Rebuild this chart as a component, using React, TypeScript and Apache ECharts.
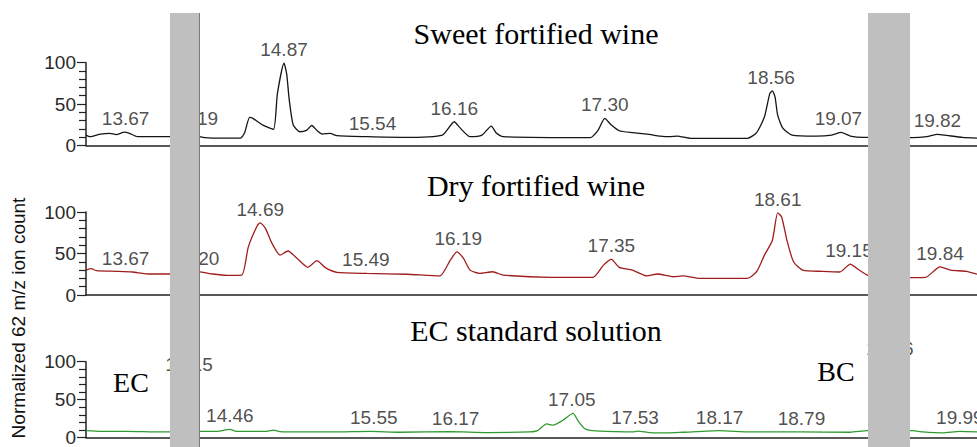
import React, { useEffect, useRef } from "react";
import * as echarts from "echarts";

// Retention time (min) vs normalized 62 m/z ion count
const sweetTrace: [number, number][] = [
  [13.37, 12.4], [13.40, 10.4], [13.48, 13.6], [13.55, 14.5], [13.60, 13], [13.66, 16], [13.70, 14.5],
  [13.76, 10.4], [13.98, 10.4], [14.08, 11], [14.15, 15], [14.19, 16], [14.23, 10.4], [14.33, 8.8],
  [14.54, 8.8], [14.57, 14.5], [14.61, 33.7], [14.64, 32], [14.71, 24.5], [14.79, 19.3], [14.82, 62.6],
  [14.87, 99.5], [14.89, 86.7], [14.91, 54.6], [14.94, 24.5], [14.99, 16.4], [15.04, 18], [15.08, 24],
  [15.12, 18], [15.16, 13.6], [15.22, 14.5], [15.27, 11.6], [15.50, 10.4], [15.77, 9.6], [16.07, 12.4],
  [16.16, 28.5], [16.20, 21.7], [16.28, 10.4], [16.37, 12.4], [16.44, 23.3], [16.48, 14.5], [16.53, 10.4],
  [17.19, 9.2], [17.25, 18.4], [17.30, 32.5], [17.35, 24.5], [17.41, 17.6], [17.51, 15.3], [17.62, 13.6],
  [17.72, 11.2], [17.79, 10.4], [17.85, 11.2], [17.95, 8.4], [18.38, 8.4], [18.45, 15.3], [18.51, 34.5],
  [18.55, 62.6], [18.57, 65.8], [18.59, 58.6], [18.61, 36.5], [18.65, 20.5], [18.72, 12.4], [18.90, 11.2],
  [19.02, 12.4], [19.09, 15.6], [19.16, 11.2], [19.26, 9.6], [19.40, 10], [19.46, 14], [19.55, 9.5],
  [19.63, 9.2], [19.74, 10.4], [19.82, 13.3], [19.89, 12], [20.01, 9.6], [20.12, 8.8],
];

const dryTrace: [number, number][] = [
  [13.37, 30], [13.41, 31.7], [13.45, 29.3], [13.60, 28.5], [13.72, 27.7], [13.85, 25.3], [14.01, 25.3],
  [14.10, 26], [14.20, 29], [14.23, 28], [14.33, 25.3], [14.44, 23.7], [14.55, 24], [14.60, 58],
  [14.67, 84.3], [14.69, 87], [14.73, 80], [14.78, 62], [14.84, 48], [14.90, 53], [14.97, 44], [15.05, 33.3],
  [15.12, 41.3], [15.18, 33.3], [15.27, 27.3], [15.50, 26], [15.80, 25], [16.05, 23], [16.13, 42],
  [16.18, 52], [16.23, 44], [16.28, 30], [16.35, 26], [16.45, 28], [16.53, 24], [16.89, 21.3], [17.21, 21.3],
  [17.29, 36], [17.35, 43], [17.41, 33.3], [17.51, 30], [17.62, 23], [17.70, 25.3], [17.82, 22],
  [17.89, 23], [18.02, 20], [18.38, 20], [18.45, 28], [18.51, 48], [18.57, 66], [18.61, 99], [18.64, 94],
  [18.68, 66], [18.73, 40], [18.80, 30], [18.95, 28.5], [19.08, 27.7], [19.16, 37.3], [19.21, 32],
  [19.29, 24], [19.40, 22], [19.46, 26], [19.55, 21], [19.63, 21], [19.73, 21.3], [19.84, 34], [19.92, 30],
  [20.04, 28.5], [20.12, 25],
];

const ecTrace: [number, number][] = [
  [13.37, 9], [13.48, 8.1], [13.68, 8.1], [13.93, 7.3], [14.03, 8], [14.08, 30], [14.12, 79], [14.16, 35],
  [14.21, 8], [14.23, 8.1], [14.36, 8.1], [14.46, 10.6], [14.51, 8.1], [14.74, 8.1], [14.79, 9.8],
  [14.84, 7.7], [15.00, 7.3], [15.24, 7.3], [15.52, 8.1], [15.75, 6.9], [16.13, 7.7], [16.41, 6.5],
  [16.73, 7.3], [16.79, 9], [16.86, 17.9], [16.91, 16.3], [16.98, 22.5], [17.06, 31.8], [17.10, 21.3],
  [17.15, 11.5], [17.21, 9], [17.39, 7.7], [17.51, 7.3], [17.55, 8.5], [17.64, 6.5], [17.77, 6.1],
  [17.89, 6.9], [18.17, 9], [18.40, 7.3], [18.78, 7.3], [19.16, 6.9], [19.29, 9], [19.32, 9], [19.38, 30],
  [19.43, 80], [19.46, 100], [19.50, 60], [19.55, 20], [19.60, 9], [19.63, 9], [19.71, 7.3], [19.86, 6.1],
  [19.99, 8.1], [20.12, 7.3],
];

// Peak labels: [retention time, peak height]
const sweetLabels: [number, number][] = [
  [13.67, 16], [14.19, 16], [14.87, 100], [15.54, 10.4], [16.16, 28.5], [17.30, 32.5], [18.56, 65.8],
  [19.07, 15.6], [19.82, 13.3],
];
const dryLabels: [number, number][] = [
  [13.67, 28], [14.20, 28], [14.69, 87], [15.49, 26], [16.19, 52], [17.35, 43], [18.61, 99], [19.15, 37.3],
  [19.84, 34],
];
const ecLabels: [number, number][] = [
  [14.15, 79], [14.46, 10.6], [15.55, 8.1], [16.17, 7.7], [17.05, 31.8], [17.53, 8], [18.17, 9],
  [18.79, 7.3], [19.46, 100], [19.99, 8.1],
];

const panelTitles = ["Sweet fortified wine", "Dry fortified wine", "EC standard solution"];
const yTicks = [0, 50, 100];
const xRange = [13.37, 20.12];

const SERIF = "'Liberation Serif', 'Times New Roman', serif";
const SANS = "'Liberation Sans', Arial, sans-serif";

export default function App() {
  const ref = useRef<HTMLDivElement>(null);
  useEffect(() => {
    if (!ref.current) return;
    const chart = echarts.init(ref.current, null, { renderer: "svg" });
    const grids = [
      { left: 86, right: 0, top: 62.7, height: 82.6 },
      { left: 86, right: 0, top: 212, height: 83 },
      { left: 86, right: 0, top: 361.7, height: 81.6 },
    ];
    const traces = [sweetTrace, dryTrace, ecTrace];
    const labels = [sweetLabels, dryLabels, ecLabels];
    const colors = ["#151515", "#a11d1d", "#2f9a2f"];

    const xAxis = grids.map((_, i) => ({
      type: "value" as const,
      gridIndex: i,
      min: xRange[0],
      max: xRange[1],
      axisLine: { show: true, lineStyle: { color: "#222", width: 1.5 } },
      axisTick: { show: false },
      axisLabel: { show: false },
      splitLine: { show: false },
    }));
    const yAxis = grids.map((_, i) => ({
      type: "value" as const,
      gridIndex: i,
      min: 0,
      max: 100,
      interval: 50,
      axisLine: { show: true, lineStyle: { color: "#222", width: 1.5 } },
      axisTick: { show: true, length: 9, lineStyle: { color: "#222", width: 1.2 } },
      minorTick: { show: true, splitNumber: 5, length: 7, lineStyle: { color: "#222", width: 1.2 } },
      axisLabel: {
        margin: 10,
        color: "#2a2a2a",
        fontSize: 19,
        fontFamily: SANS,
        formatter: (v: number) => (yTicks.includes(v) ? String(v) : ""),
      },
      splitLine: { show: false },
    }));

    const series: any[] = [];
    traces.forEach((tr, i) => {
      series.push({
        type: "line",
        xAxisIndex: i,
        yAxisIndex: i,
        data: tr,
        showSymbol: false,
        smooth: 0.2,
        lineStyle: { color: colors[i], width: 1.3 },
      });
      series.push({
        type: "scatter",
        xAxisIndex: i,
        yAxisIndex: i,
        symbolSize: 0,
        data: labels[i].map(([t, v]) => ({ name: t.toFixed(2), value: [t, v] })),
        label: {
          show: true,
          position: "top",
          distance: 4,
          formatter: "{b}",
          color: "#222",
          fontSize: 19,
          fontFamily: SANS,
        },
      });
    });

    const titleY = [33.5, 185, 330];
    const graphic: any[] = [
      ...panelTitles.map((t, i) => ({
        type: "text",
        x: 536,
        y: titleY[i],
        style: { text: t, font: `30px ${SERIF}`, fill: "#000", align: "center", verticalAlign: "middle" },
      })),
      {
        type: "text",
        x: 131,
        y: 382,
        style: { text: "EC", font: `28px ${SERIF}`, fill: "#000", align: "center", verticalAlign: "middle" },
      },
      {
        type: "text",
        x: 836,
        y: 371,
        style: { text: "BC", font: `28px ${SERIF}`, fill: "#000", align: "center", verticalAlign: "middle" },
      },
      {
        type: "text",
        x: 18,
        y: 318,
        rotation: Math.PI / 2,
        style: {
          text: "Normalized 62 m/z ion count",
          font: `19px ${SANS}`,
          fill: "#111",
          align: "center",
          verticalAlign: "middle",
        },
      },
      { type: "rect", z: 100, shape: { x: 170, y: 13, width: 30, height: 440 }, style: { fill: "#bfbfbf" } },
      { type: "line", z: 101, shape: { x1: 199.5, y1: 13, x2: 199.5, y2: 447 }, style: { stroke: "#7a7a7a", lineWidth: 1 } },
      { type: "rect", z: 100, shape: { x: 868, y: 13, width: 42, height: 440 }, style: { fill: "#bfbfbf" } },
    ];

    chart.setOption({
      animation: false,
      backgroundColor: "#fff",
      grid: grids,
      xAxis,
      yAxis,
      series,
      graphic,
    });
    return () => chart.dispose();
  }, []);
  return <div ref={ref} style={{ position: "fixed", left: 0, top: 0, width: 977, height: 447 }} />;
}
